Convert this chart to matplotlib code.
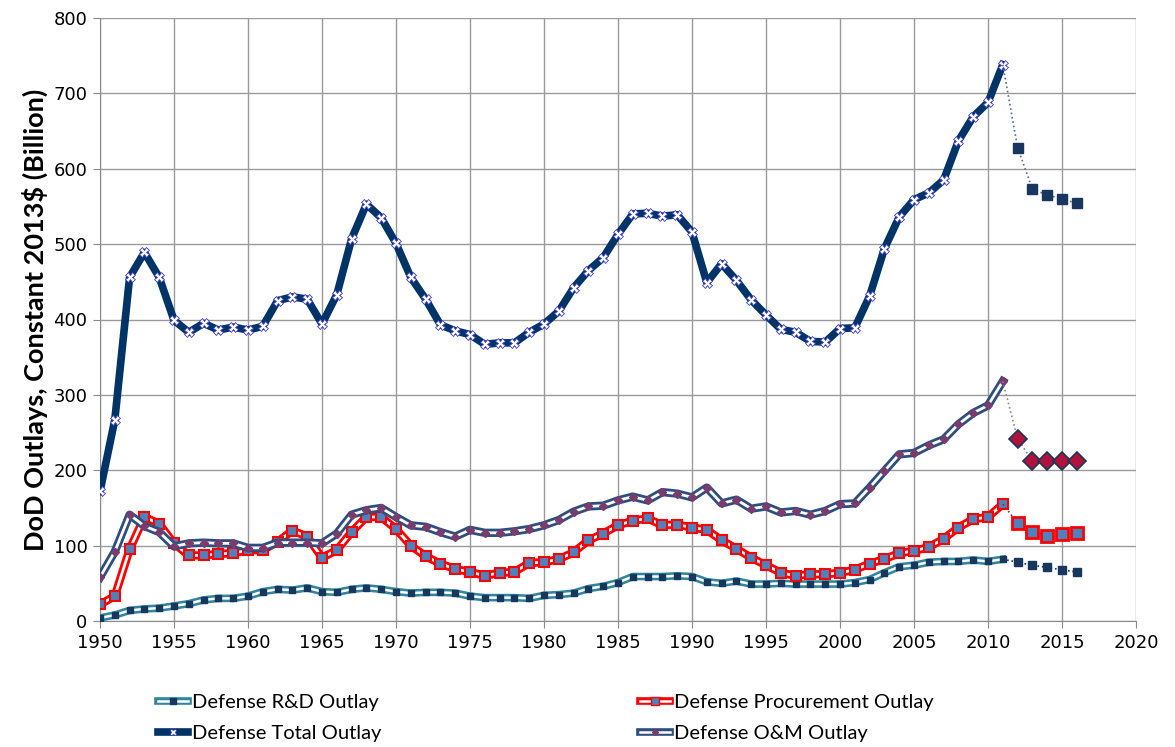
import matplotlib
matplotlib.use("Agg")
import matplotlib.pyplot as plt
import matplotlib.patheffects as pe
from matplotlib.lines import Line2D
from matplotlib.legend_handler import HandlerTuple
import numpy as np

# actuals 1950-2011, constant 2013$ billions
years = list(range(1950, 2012))

total = [172, 267, 456, 489, 456, 399, 383, 395, 386, 390,
         386, 391, 425, 430, 427, 394, 433, 507, 553, 535,
         501, 456, 427, 393, 385, 380, 367, 369, 369, 383,
         394, 411, 442, 465, 482, 513, 540, 541, 537, 539,
         516, 449, 474, 452, 426, 406, 387, 383, 371, 370,
         388, 389, 431, 494, 536, 559, 568, 585, 637, 669, 688, 738]

om = [58, 92, 141, 126, 118, 99, 103, 104, 103, 103,
      97, 97, 104, 104, 104, 103, 116, 141, 147, 150,
      138, 127, 125, 118, 112, 121, 117, 117, 119, 122,
      127, 134, 145, 152, 153, 160, 165, 160, 171, 169,
      164, 177, 156, 161, 149, 152, 144, 146, 141, 146,
      155, 156, 177, 199, 221, 223, 233, 241, 261, 276, 286, 318]

procurement = [22, 33, 95, 138, 129, 103, 87, 87, 89, 90,
               94, 94, 105, 120, 112, 84, 94, 118, 138, 138,
               122, 100, 86, 76, 69, 65, 60, 64, 65, 77,
               78, 82, 91, 107, 116, 127, 133, 136, 127, 128,
               124, 121, 107, 96, 84, 74, 64, 60, 62, 62,
               64, 68, 76, 82, 90, 93, 98, 109, 124, 135, 138, 155]

rnd = [4, 8, 14, 16, 17, 20, 23, 28, 30, 30,
       33, 39, 42, 41, 44, 39, 38, 42, 44, 42,
       39, 37, 38, 38, 37, 33, 31, 31, 31, 30,
       34, 35, 37, 43, 46, 51, 59, 59, 59, 60,
       59, 52, 50, 53, 49, 49, 50, 49, 49, 49,
       49, 51, 55, 64, 72, 74, 78, 79, 79, 81, 79, 82]

# projections 2012-2016
proj_years = [2012, 2013, 2014, 2015, 2016]
total_proj = [628, 573, 565, 560, 554]
om_proj = [242, 212, 212, 212, 212]
procurement_proj = [130, 118, 113, 115, 117]
rnd_proj = [78, 74, 71, 68, 65]

NAVY = "#003366"
TEAL = "#31859C"
RED = "#FF0000"
OM_BLUE = "#2E4E7E"

plt.rcParams["font.family"] = ["DejaVu Sans"]
fig = plt.figure(figsize=(11.75, 7.47), dpi=100)
ax = fig.add_axes([100 / 1175, 1 - 621 / 747, 1036 / 1175, 603 / 747])


def double_line(x, y, color, outer, inner, z):
    ax.plot(x, y, color="white", lw=inner, zorder=z,
            path_effects=[pe.Stroke(linewidth=outer, foreground=color), pe.Normal()])


# R&D
double_line(years, rnd, TEAL, 5.5, 1.8, 3)
ax.plot(years, rnd, ls="none", marker="s", ms=5, color="#17375E", zorder=4)
ax.plot([years[-1]] + proj_years, [rnd[-1]] + rnd_proj, ls=":", lw=1.2,
        color="#17375E", marker="s", ms=6, markevery=list(range(1, 6)), zorder=4)

# Procurement
double_line(years, procurement, RED, 6, 2, 5)
ax.plot(years, procurement, ls="none", marker="s", ms=7, mfc="#4F81BD",
        mec=RED, mew=1.5, zorder=6)
ax.plot([years[-1]] + proj_years, [procurement[-1]] + procurement_proj, ls=":", lw=1.2,
        color="#8B2F3A", marker="s", ms=8, mfc="#4F81BD", mec=RED, mew=2,
        markevery=list(range(1, 6)), zorder=6)

# Total
ax.plot(years, total, color=NAVY, lw=5.5, zorder=7)
ax.plot(years, total, ls="none", marker="X", ms=6.5, mfc="white", mec="#3b3bd0",
        mew=0.6, zorder=8)
ax.plot([years[-1]] + proj_years, [total[-1]] + total_proj, ls=":", lw=1.2,
        color="#5a6e8c", marker="s", ms=7, mfc="#17375E", mec="#17375E",
        markevery=list(range(1, 6)), zorder=8)

# O&M
double_line(years, om, OM_BLUE, 6, 2, 9)
ax.plot(years, om, ls="none", marker="D", ms=4, color="#7B3B6E", zorder=10)
ax.plot([years[-1]] + proj_years, [om[-1]] + om_proj, ls=":", lw=1.2,
        color="#8c8c8c", marker="D", ms=9, mfc="#B0123A", mec="#17375E", mew=1.2,
        markevery=list(range(1, 6)), zorder=10)

ax.set_xlim(1950, 2020)
ax.set_ylim(0, 800)
ax.set_xticks(np.arange(1950, 2021, 5))
ax.set_yticks(np.arange(0, 801, 100))
ax.grid(True, color="#9a9a9a", lw=1)
ax.set_axisbelow(True)
for s in ["top", "right"]:
    ax.spines[s].set_visible(False)
for s in ["left", "bottom"]:
    ax.spines[s].set_color("#8a8a8a")
ax.tick_params(axis="both", labelsize=13, color="#8a8a8a", length=5, pad=4)
ax.set_ylabel("DoD Outlays, Constant 2013$ (Billion)", fontsize=19.5,
              fontweight="bold", family="Lato", labelpad=4)

# legend
def dl(color):
    return Line2D([0], [0], color="white", lw=1.8,
                  path_effects=[pe.Stroke(linewidth=5.5, foreground=color), pe.Normal()])

h_rnd = (dl(TEAL), Line2D([0], [0], ls="none", marker="s", ms=4, color="#17375E"))
h_proc = (dl(RED), Line2D([0], [0], ls="none", marker="s", ms=6, mfc="#4F81BD", mec=RED))
h_total = (Line2D([0], [0], color=NAVY, lw=5.5),
           Line2D([0], [0], ls="none", marker="X", ms=5, mfc="white", mec="#3b3bd0", mew=0.5))
h_om = (dl(OM_BLUE), Line2D([0], [0], ls="none", marker="D", ms=3, color="#7B3B6E"))

fig.legend([h_rnd, h_total, h_proc, h_om],
           ["Defense R&D Outlay", "Defense Total Outlay",
            "Defense Procurement Outlay", "Defense O&M Outlay"],
           handler_map={tuple: HandlerTuple(ndivide=1, pad=0)},
           ncol=2, loc="upper left", bbox_to_anchor=(140 / 1175, 1 - 676 / 747),
           frameon=False, prop={"family": "Lato", "size": 14.5},
           handlelength=1.5, handletextpad=0.2, columnspacing=12.8,
           labelspacing=0.7)

fig.savefig("out.png", dpi=100)
